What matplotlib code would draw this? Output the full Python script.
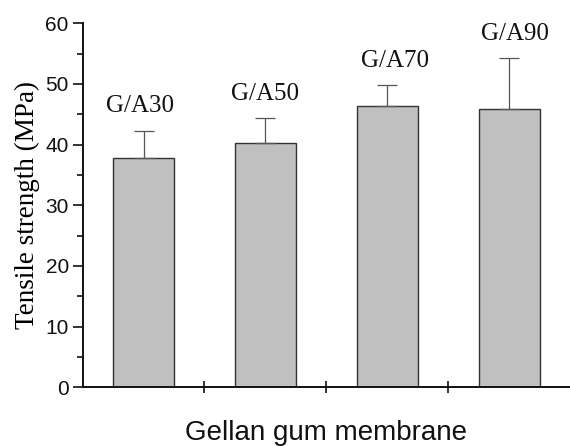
import matplotlib
matplotlib.use("Agg")
import matplotlib.pyplot as plt
from matplotlib.ticker import MultipleLocator, FixedLocator, NullFormatter

samples = ["G/A30", "G/A50", "G/A70", "G/A90"]
strength = [37.8, 40.3, 46.4, 45.8]
strength_err = [4.5, 4.1, 3.4, 8.5]

# small horizontal nudges for the sample names (axis units)
name_shift = [-0.03, 0.0, 0.06, 0.05]

fig = plt.figure(figsize=(5.70, 4.46), dpi=100)
ax = fig.add_axes([0.145, 0.1316, 0.855, 0.8162])

x = list(range(len(samples)))
ax.bar(x, strength, width=0.5, color="#c0c0c0", edgecolor="#333333",
       linewidth=1.0, zorder=2)
ax.errorbar(x, strength, yerr=[[0] * len(x), strength_err], fmt="none",
            ecolor="#555555", elinewidth=0.9, capsize=7, capthick=0.9, zorder=3)

for xi, name, v, e, dx in zip(x, samples, strength, strength_err, name_shift):
    ax.text(xi + dx, v + e + 3.0, name, ha="center", va="baseline",
            family="Liberation Serif", fontsize=18, color="#111111")

ax.set_xlim(-0.5, 3.5)
ax.set_ylim(0, 60)
ax.yaxis.set_major_locator(MultipleLocator(10))
ax.yaxis.set_minor_locator(MultipleLocator(5))
ax.xaxis.set_major_locator(FixedLocator([0.5, 1.5, 2.5]))
ax.xaxis.set_major_formatter(NullFormatter())

for s in ("top", "right"):
    ax.spines[s].set_visible(False)
for s in ("left", "bottom"):
    ax.spines[s].set_linewidth(1.4)
    ax.spines[s].set_color("#111111")

ax.tick_params(axis="y", which="major", length=7, width=1.2, labelsize=15,
               pad=3, colors="#111111")
ax.tick_params(axis="y", which="minor", length=4, width=1.2, colors="#111111")
ax.tick_params(axis="x", which="major", direction="inout", length=8, width=1.2,
               colors="#111111")
for lbl in ax.get_yticklabels():
    lbl.set_family("Liberation Sans")

ax.set_ylabel("Tensile strength (MPa)", family="Liberation Serif",
              fontsize=19.5, labelpad=4)
fig.text(0.572, 5.5 / 446, "Gellan gum membrane", ha="center", va="baseline",
         family="Liberation Sans", fontsize=20, color="#111111")

fig.savefig("out.png", dpi=100)
